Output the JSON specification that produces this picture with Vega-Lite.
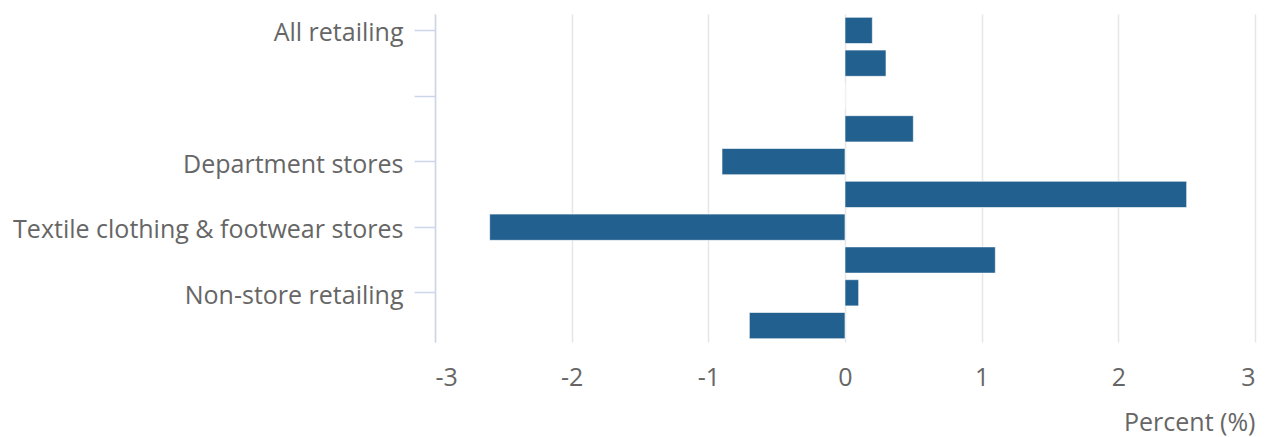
{
  "$schema": "https://vega.github.io/schema/vega-lite/v6.json",
  "autosize": {"type": "none"},
  "padding": {"left": 435, "top": 14, "right": 10, "bottom": 95},
  "width": 820,
  "height": 328,
  "background": "#ffffff",
  "config": {
    "font": "Open Sans",
    "view": {"stroke": null}
  },
  "data": {
    "values": [
      {"category": "All retailing", "value": 0.2},
      {"category": "All retailing excluding automotive fuel", "value": 0.3},
      {"category": "Predominantly food stores", "value": 0},
      {"category": "Predominantly non-food stores", "value": 0.5},
      {"category": "Department stores", "value": -0.9},
      {"category": "Other non-food stores", "value": 2.5},
      {"category": "Textile clothing & footwear stores", "value": -2.6},
      {"category": "Household goods stores", "value": 1.1},
      {"category": "Non-store retailing", "value": 0.1},
      {"category": "Automotive fuel", "value": -0.7}
    ]
  },
  "mark": {"type": "bar", "color": "#22608f", "stroke": "#ffffff", "strokeWidth": 1, "strokeOpacity": 0.6},
  "encoding": {
    "y": {
      "field": "category",
      "type": "nominal",
      "sort": null,
      "scale": {"paddingInner": 0.2, "paddingOuter": 0.1},
      "axis": {
        "title": null,
        "values": ["All retailing", "Predominantly food stores", "Department stores", "Textile clothing & footwear stores", "Non-store retailing"],
        "labelExpr": "datum.value == 'Predominantly food stores' ? '' : datum.value",
        "domainColor": "#ccd6eb",
        "domainWidth": 1.5,
        "tickColor": "#ccd6eb",
        "tickWidth": 1.5,
        "tickSize": 21,
        "labelPadding": 11,
        "labelOffset": 3,
        "labelFontSize": 25,
        "labelColor": "#666666",
        "labelFont": "Open Sans",
        "labelLimit": 500,
        "grid": false
      }
    },
    "x": {
      "field": "value",
      "type": "quantitative",
      "scale": {"domain": [-3, 3], "nice": false},
      "axis": {
        "title": "Percent (%)",
        "values": [-3, -2, -1, 0, 1, 2, 3],
        "labelExpr": "datum.value < 0 ? '-' + abs(datum.value) : '' + datum.value",
        "domain": false,
        "ticks": false,
        "grid": true,
        "gridColor": "#e6e6e6",
        "gridWidth": 1.5,
        "labelPadding": 23,
        "labelFontSize": 25,
        "labelColor": "#666666",
        "labelFont": "Open Sans",
        "titleFontSize": 25,
        "titleFontWeight": "normal",
        "titleColor": "#666666",
        "titleFont": "Open Sans",
        "titleAnchor": "end",
        "titlePadding": 20
      }
    }
  }
}
